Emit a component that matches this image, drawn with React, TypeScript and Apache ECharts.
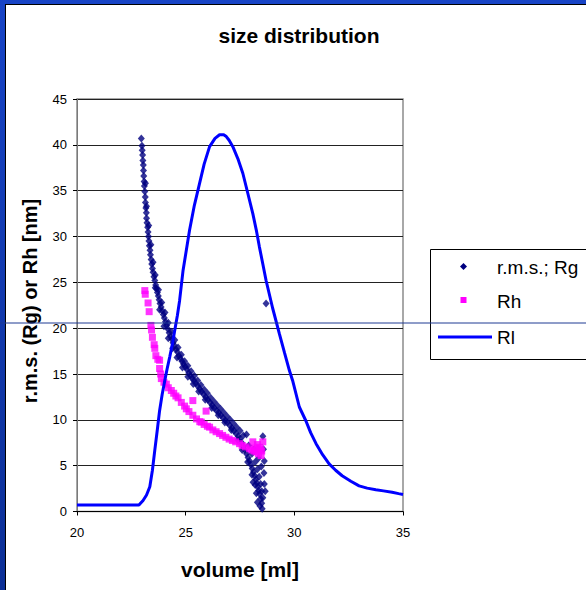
import React, { useEffect, useRef } from "react";
import * as echarts from "echarts";

const xTicks = [20, 25, 30, 35];
const yTicks = [0, 5, 10, 15, 20, 25, 30, 35, 40, 45];

const rgData: number[][] = [
  [22.96, 40.7], [22.99, 39.9], [23.0, 39.4], [23.02, 38.9], [23.03, 38.3], [23.05, 37.8], [23.06, 37.2],
  [23.07, 36.6], [23.09, 36.0], [23.1, 35.5], [23.12, 34.9], [23.14, 34.3], [23.15, 33.7], [23.17, 33.1],
  [23.19, 32.6], [23.2, 32.0], [23.22, 31.5], [23.25, 31.0], [23.27, 30.5], [23.29, 30.0], [23.31, 29.5],
  [23.33, 29.0], [23.36, 28.5], [23.38, 28.0], [23.41, 27.5], [23.44, 27.0], [23.47, 26.5], [23.5, 26.1],
  [23.54, 25.6], [23.58, 25.2], [23.62, 24.7], [23.66, 24.3], [23.7, 23.9], [23.74, 23.5], [23.78, 23.1],
  [23.82, 22.7], [23.87, 22.3], [23.92, 21.9], [23.97, 21.5], [24.02, 21.1], [24.07, 20.7], [24.12, 20.3],
  [24.18, 19.9], [24.24, 19.5], [24.3, 19.1], [24.36, 18.8], [24.42, 18.4], [24.48, 18.1], [24.55, 17.7],
  [24.62, 17.4], [24.69, 17.0], [24.76, 16.7], [24.83, 16.4], [24.9, 16.1], [24.98, 15.8], [25.06, 15.5],
  [25.14, 15.1], [25.22, 14.8], [25.3, 14.5], [25.38, 14.3], [25.46, 14.0], [25.55, 13.7], [25.64, 13.4],
  [25.73, 13.1], [25.82, 12.8], [25.92, 12.5], [26.02, 12.2], [26.12, 11.9], [26.22, 11.6], [26.32, 11.3],
  [26.42, 11.0], [26.52, 10.8], [26.62, 10.5], [26.72, 10.2], [26.82, 9.95], [26.92, 9.7], [27.02, 9.4],
  [27.12, 9.1], [27.22, 8.8], [27.32, 8.5], [27.42, 8.2], [27.5, 7.9], [27.58, 7.5], [27.65, 7.1],
  [27.72, 6.7], [27.8, 6.3], [27.87, 5.9], [27.94, 5.5], [28.0, 5.1], [28.06, 4.7], [28.12, 4.3],
  [28.18, 3.9], [28.23, 3.5], [28.28, 3.1], [28.32, 2.7], [28.36, 2.3], [28.4, 1.9], [28.45, 1.4],
  [28.5, 0.9], [28.52, 0.3],
  [23.15, 35.8], [23.2, 33.3], [23.3, 31.2], [23.4, 29.1], [23.5, 27.2], [23.6, 25.8], [23.75, 24.2],
  [23.9, 22.8], [24.05, 21.7], [24.2, 20.6], [24.35, 19.6], [24.5, 18.7], [24.65, 17.9], [24.8, 17.1],
  [24.95, 16.4], [25.1, 15.9], [25.25, 15.3], [25.4, 14.8], [25.55, 14.3], [25.7, 13.8], [25.85, 13.3],
  [26.0, 12.9], [26.15, 12.4], [26.3, 12.0], [26.45, 11.6], [26.6, 11.2], [26.75, 10.8], [26.9, 10.4],
  [27.05, 10.0], [27.2, 9.6], [27.35, 9.2], [27.5, 8.8], [27.65, 8.3], [27.8, 8.4], [27.9, 7.2],
  [28.05, 6.3], [28.2, 5.4], [28.3, 4.6], [28.38, 3.8], [28.45, 3.0], [28.5, 2.2], [28.55, 1.5],
  [28.42, 0.6], [28.6, 4.2], [28.62, 5.5], [28.58, 6.8], [28.55, 8.2], [28.15, 6.8], [28.1, 3.2],
  [28.25, 2.0], [28.3, 1.0], [28.7, 22.7],
  [23.6, 24.4], [23.8, 22.0], [24.0, 20.2], [24.2, 18.9], [24.4, 17.8], [24.6, 16.8], [24.85, 15.7],
  [25.1, 14.7], [25.35, 13.9], [25.6, 13.1], [25.9, 12.2], [26.2, 11.3], [26.5, 10.5], [26.8, 9.7],
  [27.1, 8.9], [27.4, 7.8], [27.6, 6.7], [27.85, 5.4], [28.05, 4.0], [28.2, 2.9], [28.62, 3.0],
  [28.35, 5.8], [28.48, 4.9], [28.66, 2.2],
];

const rhData: number[][] = [
  [23.12, 24.1], [23.14, 23.7], [23.27, 22.75], [23.32, 21.8], [23.4, 20.3], [23.43, 19.8], [23.47, 19.0],
  [23.55, 18.2], [23.58, 17.8], [23.63, 17.0], [23.72, 16.6], [23.8, 16.5], [23.8, 15.6], [23.85, 15.0],
  [23.88, 14.5], [24.0, 14.1], [24.11, 13.9], [24.2, 13.5], [24.34, 13.2], [24.45, 12.9], [24.55, 12.6],
  [24.65, 12.4], [24.8, 11.9], [24.95, 11.5], [25.03, 11.2], [25.15, 10.9], [25.33, 12.1], [25.33, 10.5],
  [25.5, 10.1], [25.65, 9.8], [25.72, 9.75], [25.85, 9.5], [25.94, 10.95], [26.0, 9.3], [26.1, 9.2],
  [26.25, 8.9], [26.4, 8.7], [26.56, 8.5], [26.7, 8.3], [26.85, 8.1], [27.0, 7.9], [27.15, 7.75],
  [27.3, 7.6], [27.48, 7.4], [27.6, 7.2], [27.75, 7.05], [27.94, 6.85], [28.05, 6.7], [28.15, 6.6],
  [28.24, 6.5], [28.35, 6.3], [28.47, 6.1], [28.5, 6.6], [28.4, 7.0], [28.09, 7.6], [28.55, 7.6],
  [28.3, 7.3], [28.2, 6.9], [28.45, 6.8],
];

const rlData: number[][] = [
  [20, 0.7], [21, 0.7], [22, 0.7], [22.85, 0.7], [23.04, 1.2], [23.2, 1.8], [23.35, 2.7], [23.47, 4.5],
  [23.58, 6.7], [23.7, 9], [23.8, 11], [23.92, 12.8], [24.04, 14.3], [24.15, 15.6], [24.27, 16.9],
  [24.4, 18.4], [24.5, 19.8], [24.62, 21.4], [24.72, 23], [24.88, 26.3], [25.03, 28.5], [25.18, 30.7],
  [25.4, 33.4], [25.64, 35.8], [25.85, 37.9], [26.1, 39.8], [26.35, 40.7], [26.56, 41.1], [26.75, 41.1],
  [26.87, 40.9], [27.0, 40.5], [27.17, 39.8], [27.4, 38.5], [27.63, 36.9], [27.85, 34.8], [28.09, 32.5],
  [28.25, 30.7], [28.39, 28.9], [28.55, 27], [28.7, 25.2], [29.0, 22.2], [29.31, 19.4], [29.55, 17.3],
  [29.77, 15.4], [29.92, 14.3], [30.23, 11.4], [30.53, 9.9], [30.75, 8.6], [31, 7.4], [31.3, 6.2],
  [31.6, 5.2], [31.9, 4.5], [32.2, 3.9], [32.6, 3.3], [32.98, 2.8], [33.35, 2.55], [33.75, 2.37],
  [34.1, 2.25], [34.5, 2.1], [34.8, 1.95], [35, 1.86],
];

const titleText = "size distribution";
const xName = "volume [ml]";
const yName = "r.m.s. (Rg) or Rh [nm]";
const seriesNames = ["r.m.s.; Rg", "Rh", "Rl"];

const FONT = "'Liberation Sans', Arial, sans-serif";

export default function App() {
  const ref = useRef<HTMLDivElement>(null);
  useEffect(() => {
    if (!ref.current) return;
    const chart = echarts.init(ref.current, null, { renderer: "svg" });
    chart.setOption({
      animation: false,
      backgroundColor: "transparent",
      textStyle: { fontFamily: FONT },
      grid: {
        left: 77, top: 99, width: 326, height: 412.5,
        show: true, borderColor: "#8c8c8c", borderWidth: 1.5, backgroundColor: "transparent",
      },
      xAxis: {
        type: "value", min: xTicks[0], max: xTicks[xTicks.length - 1], interval: 5,
        axisLine: { show: true, lineStyle: { color: "#000", width: 1 } },
        axisTick: { show: true, length: 4, lineStyle: { color: "#000" } },
        axisLabel: { color: "#000", fontSize: 13, margin: 14, fontFamily: FONT },
        splitLine: { show: false },
      },
      yAxis: {
        type: "value", min: yTicks[0], max: yTicks[yTicks.length - 1], interval: 5,
        axisLine: { show: true, lineStyle: { color: "#7a7a7a", width: 1 } },
        axisTick: { show: true, length: 4, lineStyle: { color: "#000" } },
        axisLabel: { color: "#000", fontSize: 13, margin: 10, fontFamily: FONT },
        splitLine: { show: true, lineStyle: { color: "#222", width: 1 } },
      },
      series: [
        {
          name: seriesNames[0], type: "scatter", data: rgData, symbol: "diamond", symbolSize: [7, 8],
          itemStyle: { color: "#000080" }, z: 3,
        },
        {
          name: seriesNames[1], type: "scatter", data: rhData, symbol: "rect", symbolSize: 7,
          itemStyle: { color: "#ff00ff" }, z: 4,
        },
        {
          name: seriesNames[2], type: "line", data: rlData, showSymbol: false, symbol: "none",
          lineStyle: { color: "#0000ff", width: 3 }, z: 5,
        },
      ],
      graphic: [
        {
          type: "text", x: 299, y: 35,
          style: { text: titleText, font: `bold 21px ${FONT}`, fill: "#000", align: "center", verticalAlign: "middle" },
        },
        {
          type: "text", x: 240, y: 569,
          style: { text: xName, font: `bold 21px ${FONT}`, fill: "#000", align: "center", verticalAlign: "middle" },
        },
        {
          type: "text", x: 30, y: 301, rotation: Math.PI / 2,
          style: { text: yName, font: `bold 20px ${FONT}`, fill: "#000", align: "center", verticalAlign: "middle" },
        },
        {
          type: "rect", shape: { x: 430.5, y: 249.5, width: 170, height: 110 },
          style: { fill: "#fff", stroke: "#000", lineWidth: 1 }, z: 10,
        },
        {
          type: "polygon", shape: { points: [[463.5, 263], [467, 266.5], [463.5, 270], [460, 266.5]] },
          style: { fill: "#000080" }, z: 11,
        },
        {
          type: "text", x: 497, y: 267, z: 11,
          style: { text: seriesNames[0], font: `19px ${FONT}`, fill: "#000", verticalAlign: "middle" },
        },
        {
          type: "rect", shape: { x: 460.5, y: 297, width: 6, height: 6 },
          style: { fill: "#ff00ff" }, z: 11,
        },
        {
          type: "text", x: 497, y: 301, z: 11,
          style: { text: seriesNames[1], font: `19px ${FONT}`, fill: "#000", verticalAlign: "middle" },
        },
        {
          type: "line", shape: { x1: 438, y1: 337, x2: 492, y2: 337 },
          style: { stroke: "#0000ff", lineWidth: 3 }, z: 11,
        },
        {
          type: "text", x: 497, y: 337, z: 11,
          style: { text: seriesNames[2], font: `19px ${FONT}`, fill: "#000", verticalAlign: "middle" },
        },
        {
          type: "line", shape: { x1: 0, y1: 323, x2: 586, y2: 323 },
          style: { stroke: "#1f3a93", lineWidth: 1 }, z: 20,
        },
      ],
    });
    return () => chart.dispose();
  }, []);

  return (
    <div
      style={{
        position: "fixed", left: 0, top: 0, width: 586, height: 590, overflow: "hidden",
        background: "linear-gradient(#1844c6, #0c2f96)",
      }}
    >
      <div
        style={{
          position: "absolute", left: 5, top: 4, right: 0, bottom: 0, background: "#fff",
          borderLeft: "1px solid #000", borderTop: "1px solid #000",
        }}
      />
      <div ref={ref} style={{ position: "absolute", left: 0, top: 0, width: 586, height: 590 }} />
    </div>
  );
}
